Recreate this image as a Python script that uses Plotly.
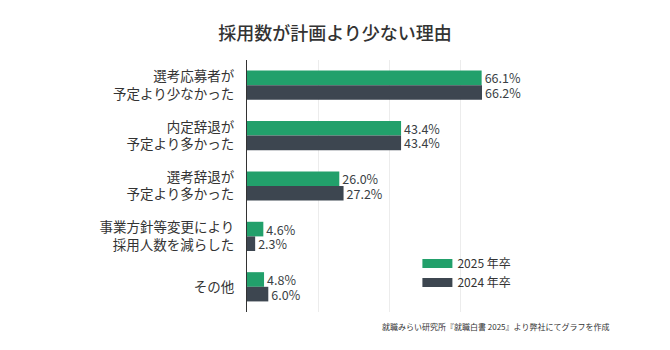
import plotly.graph_objects as go

categories = ["選考応募者が<br>予定より少なかった", "内定辞退が<br>予定より多かった", "選考辞退が<br>予定より多かった",
              "事業方針等変更により<br>採用人数を減らした", "その他"]
values_2025 = [66.1, 43.4, 26.0, 4.6, 4.8]
values_2024 = [66.2, 43.4, 27.2, 2.3, 6.0]
series_names = ["2025 年卒", "2024 年卒"]
colors = ["#22a06b", "#3d4650"]

FONT = "Noto Sans CJK JP"
fig = go.Figure()
for name, vals, col in zip(series_names, [values_2025, values_2024], colors):
    fig.add_trace(go.Bar(
        y=categories, x=vals, orientation="h", name=name, showlegend=False,
        marker=dict(color=col, line=dict(width=0)),
        texttemplate="%{x:.1f}%", textposition="outside", constraintext="none",
        textfont=dict(family=FONT, size=12.5, color="#3a3f45"), cliponaxis=False,
    ))
    fig.add_trace(go.Scatter(
        x=[None], y=[None], mode="lines", name=name,
        line=dict(color=col, width=9), showlegend=True,
    ))

fig.update_layout(
    width=670, height=350,
    margin=dict(l=247, r=139, t=60, b=38),
    paper_bgcolor="white", plot_bgcolor="white",
    font=dict(family=FONT, color="#333"),
    barmode="group", bargap=0.42, bargroupgap=0,
    title=dict(text="採用数が計画より少ない理由", x=0.5, xanchor="center", y=0.905, yanchor="middle",
               font=dict(family=FONT, size=18, color="#333", weight=500)),
    xaxis=dict(range=[0, 80], dtick=20, showticklabels=False, showgrid=True, gridcolor="#ececec",
               gridwidth=1, zeroline=False, showline=False, fixedrange=True),
    yaxis=dict(autorange="reversed", showline=True, linecolor="#333", linewidth=1,
               ticks="", ticklabelstandoff=9, tickfont=dict(family=FONT, size=13.5, color="#333"),
               showgrid=False),
    legend=dict(x=0.60, y=0.25, xanchor="left", yanchor="top", bgcolor="rgba(0,0,0,0)",
                font=dict(family=FONT, size=12, color="#333"), tracegroupgap=0, itemwidth=30),
    annotations=[dict(text="就職みらい研究所『就職白書 2025』より弊社にてグラフを作成", xref="paper", yref="paper",
                      x=1.28, y=-0.056, xanchor="right", yanchor="middle", showarrow=False,
                      font=dict(family=FONT, size=8, color="#333"))],
)

fig.write_html("out.html")
